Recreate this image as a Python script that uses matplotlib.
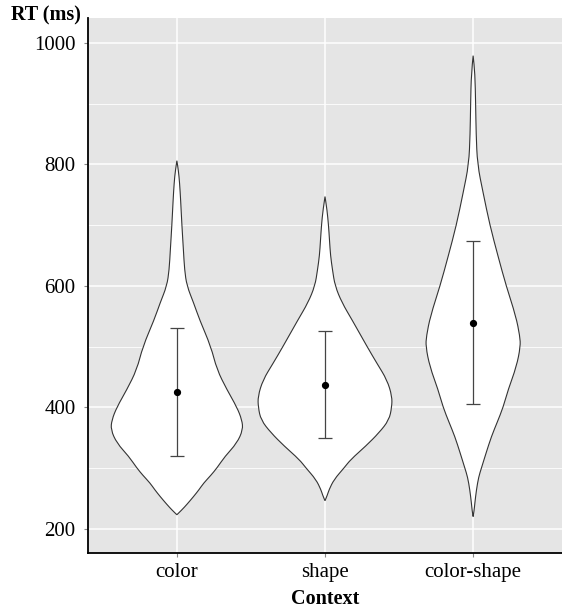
import numpy as np
import matplotlib.pyplot as plt
from matplotlib.path import Path
from matplotlib.patches import PathPatch

contexts = ['color', 'shape', 'color-shape']

# violin outlines: RT (ms) and half-width (px at 148 px per group)
color_rt = [223, 231, 240, 253, 264, 275, 288, 300, 319, 341, 363, 379, 400, 429, 462,
            500, 544, 572, 600, 626, 660, 700, 740, 770, 790, 806]
color_hw = [0, 5, 10, 16.7, 22, 26.7, 34, 40, 48, 60, 66, 65, 60, 50, 40,
            34, 22.7, 16.7, 10, 7.7, 6.5, 5, 3.8, 2.7, 1.5, 0]

shape_rt = [246, 256, 264, 281, 300, 314, 336, 358, 379, 400, 418, 445, 472, 500, 544,
            572, 600, 626, 650, 675, 700, 725, 747]
shape_hw = [0, 2.5, 4, 9, 19, 25.7, 40.7, 54, 64, 66.7, 67, 62, 52, 42, 27,
            17, 10, 7.5, 5.5, 4.5, 3.5, 2, 0]

cs_rt = [220, 230, 242, 264, 285, 300, 325, 352, 375, 400, 429, 467, 500, 517, 550,
         600, 648, 700, 753, 800, 850, 900, 950, 979]
cs_hw = [0, 1, 1.7, 3.3, 5.5, 8.3, 13, 18.3, 24, 30, 35, 43.3, 47.3, 46.7, 42.7,
         33, 25, 16.7, 10, 4.3, 3, 2.5, 1.8, 0]

# mean +/- SD
means = [425, 437, 539]
sds = [105, 88, 134]

profiles = [(color_rt, color_hw), (shape_rt, shape_hw), (cs_rt, cs_hw)]


def smooth_path(pts):
    # quadratic bezier through midpoints, read points used as control points
    verts = [pts[0]]
    codes = [Path.MOVETO]
    for k in range(1, len(pts) - 1):
        mid = ((pts[k][0] + pts[k+1][0]) / 2, (pts[k][1] + pts[k+1][1]) / 2)
        verts += [pts[k], mid]
        codes += [Path.CURVE3, Path.CURVE3]
    verts.append(pts[-1])
    codes.append(Path.LINETO)
    return verts, codes


plt.rcParams['font.family'] = ['Liberation Serif', 'DejaVu Serif']

fig = plt.figure(figsize=(5.62, 6.11), dpi=100)
ax = fig.add_axes([88/562, 58/611, 474/562, 535/611])
ax.set_facecolor('#E5E5E5')

ax.set_xlim(0.4, 3.6)
ax.set_ylim(160, 1041)
ax.set_yticks([200, 400, 600, 800, 1000])
ax.set_yticks([300, 500, 700, 900], minor=True)
ax.set_xticks([1, 2, 3])
ax.set_xticklabels(contexts)
ax.grid(True, which='major', color='white', lw=1.1)
ax.grid(True, which='minor', axis='y', color='white', lw=0.6)
ax.set_axisbelow(True)

for i, (rt, hw) in enumerate(profiles):
    x = i + 1
    hw = np.array(hw) / 148.0
    right = [(x + w, y) for w, y in zip(hw, rt)]
    left = [(x - w, y) for w, y in zip(hw, rt)][::-1]
    v1, c1 = smooth_path(right)
    v2, c2 = smooth_path(left)
    c2[0] = Path.LINETO
    path = Path(v1 + v2 + [v1[0]], c1 + c2 + [Path.CLOSEPOLY])
    ax.add_patch(PathPatch(path, facecolor='white', edgecolor='#333333', lw=0.8, zorder=3))
    ax.errorbar(x, means[i], yerr=sds[i], fmt='none', ecolor='#444444', elinewidth=0.9,
                capsize=5.3, capthick=0.9, zorder=4)
    ax.plot(x, means[i], 'o', color='black', ms=4.2, zorder=5)

for s in ['top', 'right']:
    ax.spines[s].set_visible(False)
for s in ['left', 'bottom']:
    ax.spines[s].set_color('black')
    ax.spines[s].set_linewidth(1.3)

ax.tick_params(axis='both', which='major', length=3, color='#888888', labelsize=15, pad=4)
ax.tick_params(axis='y', which='major', pad=6)
ax.tick_params(axis='y', which='minor', length=0)
ax.set_xlabel('Context', fontsize=14.5, fontweight='bold', labelpad=5)
fig.text(81/562, 1 - 15/611, 'RT (ms)', ha='right', va='center', fontsize=14.5, fontweight='bold')

fig.savefig('out.png', dpi=100)
